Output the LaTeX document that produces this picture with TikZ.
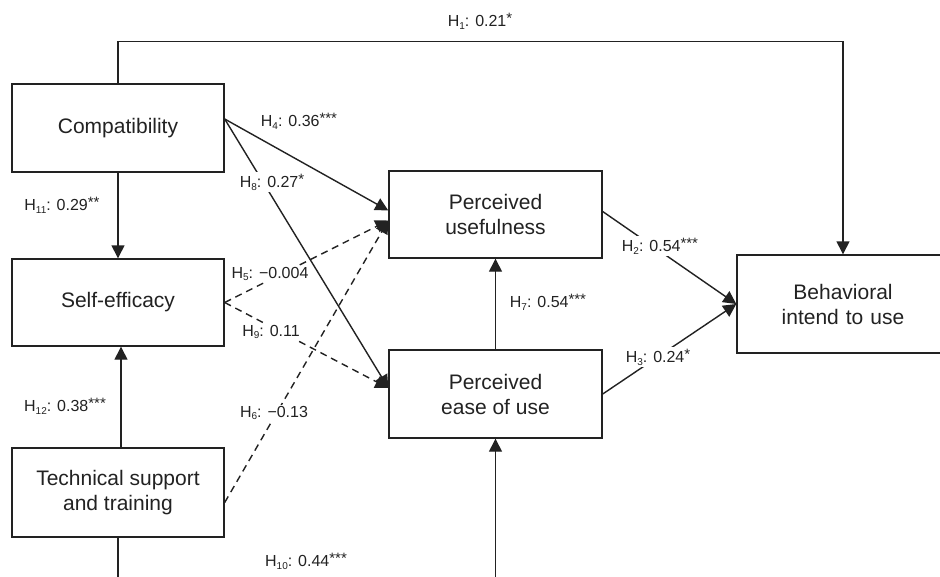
\documentclass[tikz,border=0pt]{standalone}
\usepackage{fontspec}
\setmainfont{Liberation Sans}
\usetikzlibrary{arrows.meta,calc}
\definecolor{ink}{HTML}{222222}
\newcommand{\sig}[1]{\raisebox{3.5pt}{\fontsize{15}{18}\selectfont #1}}
\newcommand{\hy}[1]{H\raisebox{-2.5pt}{\fontsize{10}{12}\selectfont #1}}
\tikzset{
  box/.style={draw=ink, line width=1.4pt, rectangle, minimum width=212pt, minimum height=88pt, inner sep=0pt,
    align=center, text=ink, font=\fontsize{21}{25}\selectfont},
  conn/.style={draw=ink, line width=1.4pt, -{Triangle[length=13pt,width=13pt]}},
  dashline/.style={dash pattern=on 7pt off 5pt},
  lab/.style={fill=white, inner sep=1.5pt, text=ink, font=\fontsize{16}{19}\selectfont}
}
\begin{document}
\begin{tikzpicture}[x=1pt,y=-1pt]
\useasboundingbox (0,0) rectangle (940,576);
\fill[white] (0,0) rectangle (940,576);
\begin{scope}
\clip (0,0) rectangle (940,576);
% boxes
\node[box] (comp) at (118,128) {Compatibility};
\node[box, minimum height=87pt] (self) at (118,302.5) {Self-efficacy};
\node[box, minimum height=89pt] (tech) at (118,492.5) {Technical support\\and training};
\node[box, minimum width=213pt, minimum height=87pt] (pu) at (495.5,214.5) {Perceived\\usefulness};
\node[box, minimum width=213pt, minimum height=88pt] (peou) at (495.5,394) {Perceived\\ease of use};
\node[box, minimum width=212pt, minimum height=98pt, text width=212pt] (bi) at (843,304) {Behavioral\\intend to use};
% anchor points
\coordinate (cA) at ($(comp.east)+(0,-9)$);
\coordinate (puA) at ($(pu.west)+(0,-4)$);
\coordinate (puB) at ($(pu.west)+(0,6)$);
\coordinate (peA) at ($(peou.west)+(0,-6)$);
\coordinate (tE) at ($(tech.east)+(0,10)$);
\coordinate (puE) at ($(pu.east)+(0,-3)$);
% connectors
\draw[conn] (comp.north) -- ++(0,-42) -| (bi.north);
\draw[conn] (comp.south) -- (self.north);
\draw[conn] ($(tech.north)+(3,0)$) -- ($(self.south)+(3,0)$);
\draw[conn] (cA) -- (puA);
\draw[conn] (cA) -- (peA);
\draw[conn,dashline] (self.east) -- (puB);
\draw[conn,dashline] (self.east) -- (peA);
\draw[conn,dashline] (tE) -- (puB);
\draw[conn] (peou.north) -- (pu.south);
\draw[conn] (puE) -- (bi.west);
\draw[conn] (peou.east) -- (bi.west);
\draw[conn] (tech.south) -- ++(0,80) -| (peou.south);
% labels
\node[lab] (l1) at (480,21) {\hy{1}: 0.21\sig{*}};
\node[lab,fill=none] (l4) at (299,121) {\hy{4}: 0.36\sig{***}};
\node[lab] (l8) at (272,182) {\hy{8}: 0.27\sig{*}};
\node[lab] (l11) at (62,205) {\hy{11}: 0.29\sig{**}};
\node[lab] (l5) at (270,274) {\hy{5}: −0.004};
\node[lab] (l9) at (271,332) {\hy{9}: 0.11};
\node[lab] (l6) at (274,413) {\hy{6}: −0.13};
\node[lab] (l12) at (65,406) {\hy{12}: 0.38\sig{***}};
\node[lab] (l10) at (306,561) {\hy{10}: 0.44\sig{***}};
\node[lab] (l7) at (548,302) {\hy{7}: 0.54\sig{***}};
\node[lab] (l2) at (660,246) {\hy{2}: 0.54\sig{***}};
\node[lab] (l3) at (658,357) {\hy{3}: 0.24\sig{*}};
\end{scope}
\end{tikzpicture}
\end{document}
